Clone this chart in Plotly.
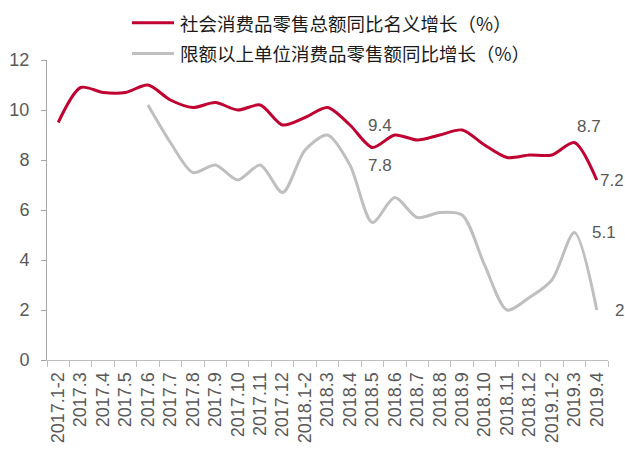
import plotly.graph_objects as go

categories = ["2017.1-2", "2017.3", "2017.4", "2017.5", "2017.6", "2017.7", "2017.8",
              "2017.9", "2017.10", "2017.11", "2017.12", "2018.1-2", "2018.3", "2018.4",
              "2018.5", "2018.6", "2018.7", "2018.8", "2018.9", "2018.10", "2018.11",
              "2018.12", "2019.1-2", "2019.3", "2019.4"]

retail_total = [9.5, 10.9, 10.7, 10.7, 11.0, 10.4, 10.1, 10.3, 10.0, 10.2, 9.4, 9.7, 10.1,
                9.4, 8.5, 9.0, 8.8, 9.0, 9.2, 8.6, 8.1, 8.2, 8.2, 8.7, 7.2]

retail_above_limit = [None, None, None, None, 10.2, 8.7, 7.5, 7.8, 7.2, 7.8, 6.7, 8.4, 9.0,
                      7.8, 5.5, 6.5, 5.7, 5.9, 5.8, 3.8, 2.0, 2.5, 3.2, 5.1, 2.0]

name_total = "社会消费品零售总额同比名义增长（%）"
name_above = "限额以上单位消费品零售额同比增长（%）"

red = "#C00030"
grey = "#BFBFBF"
text_grey = "#595959"
num_font = "Liberation Sans, Arial, sans-serif"
cjk_font = "Noto Sans CJK SC, sans-serif"

fig = go.Figure()
fig.add_trace(go.Scatter(x=categories, y=retail_above_limit, name=name_above, mode="lines",
                         line=dict(color=grey, width=3, shape="spline", smoothing=0.8),
                         connectgaps=False, showlegend=False))
fig.add_trace(go.Scatter(x=categories, y=retail_total, name=name_total, mode="lines",
                         line=dict(color=red, width=3, shape="spline", smoothing=0.8),
                         showlegend=False))

# data labels (category, value, xshift, yshift), left-anchored
labels = [
    ("2018.4", 9.4, "9.4", 17, 0),
    ("2018.4", 7.8, "7.8", 17, 0),
    ("2019.3", 8.7, "8.7", 2, 16),
    ("2019.4", 7.2, "7.2", 2, 0),
    ("2019.3", 5.1, "5.1", 17, 0),
    ("2019.4", 2.0, "2", 17, 0),
]
for cat, val, txt, xs, ys in labels:
    fig.add_annotation(x=categories.index(cat), y=val, text=txt, showarrow=False,
                       xanchor="left", xshift=xs, yshift=ys, borderpad=0,
                       font=dict(family=num_font, size=17, color=text_grey))

# manual legend
legend_rows = [(name_total, red, 1.124), (name_above, grey, 1.022)]
for nm, col, yy in legend_rows:
    fig.add_shape(type="line", xref="paper", yref="paper", x0=0.1515, x1=0.2264, y0=yy, y1=yy,
                  line=dict(color=col, width=3))
    fig.add_annotation(xref="paper", yref="paper", x=0.2335, y=yy, text=nm, showarrow=False,
                       xanchor="left", yanchor="middle",
                       font=dict(family=cjk_font, size=18.5, color="#1A1A1A"))

fig.update_layout(
    width=625, height=449,
    margin=dict(l=47, r=17, t=60, b=89, autoexpand=False),
    paper_bgcolor="white", plot_bgcolor="white",
    showlegend=False,
    xaxis=dict(type="category", range=[-0.5, len(categories) - 0.5], autorange=False,
               automargin=False,
               showgrid=False, showline=True, linecolor="#BFBFBF",
               linewidth=1, ticks="outside", tickson="boundaries", ticklen=6,
               tickcolor="#BFBFBF", tickangle=-90, ticklabelstandoff=4,
               tickfont=dict(family=num_font, size=18, color=text_grey)),
    yaxis=dict(range=[0, 12], dtick=2, showgrid=False, zeroline=False, showline=True,
               automargin=False,
               linecolor="#A6A6A6", linewidth=1, ticks="outside", ticklen=5,
               tickcolor="#A6A6A6", ticklabelstandoff=8,
               tickfont=dict(family=num_font, size=18, color=text_grey)),
)

fig.write_html("out.html", config={"displayModeBar": False},
               post_script="document.body.style.margin='0';document.body.style.overflow='hidden';")
